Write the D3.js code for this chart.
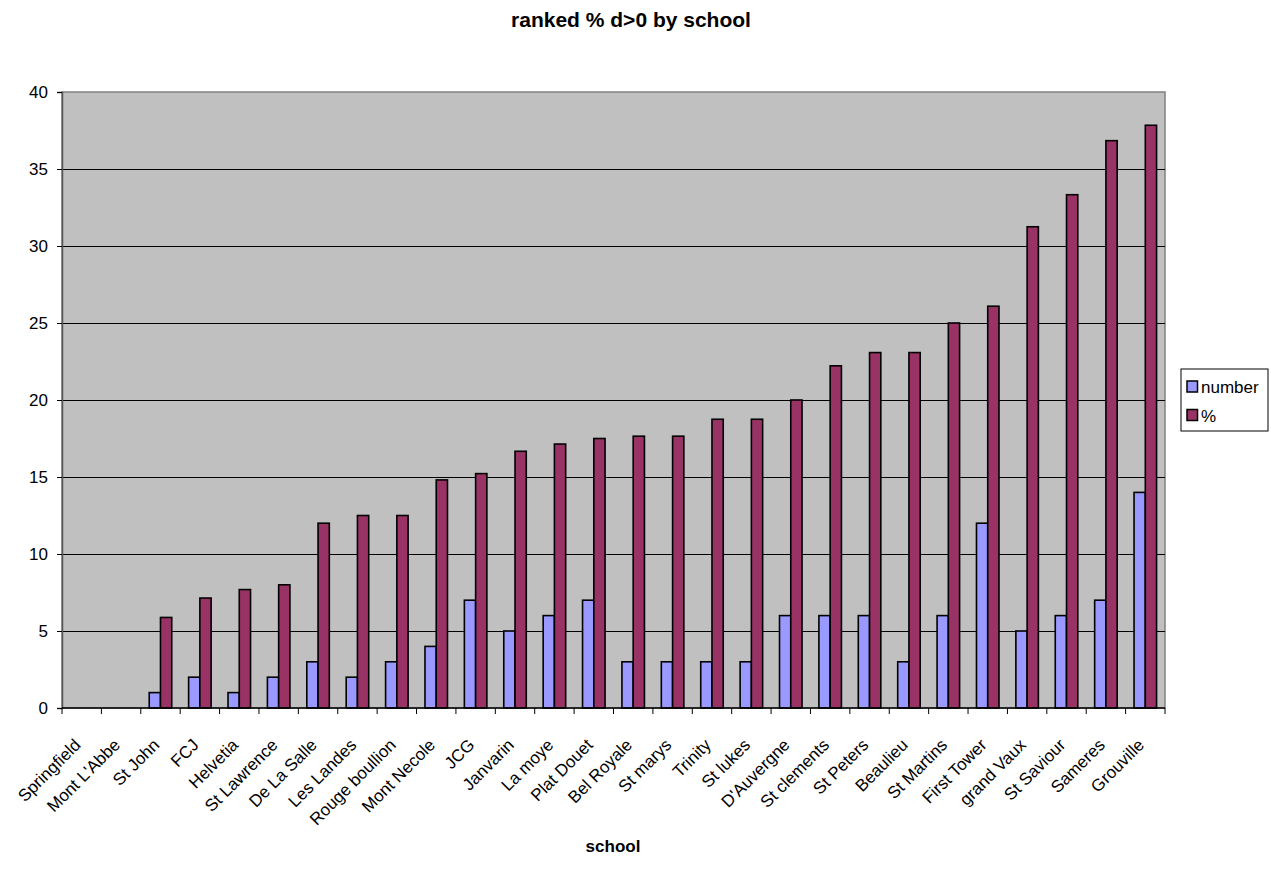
<!DOCTYPE html>
<html>
<head>
<meta charset="utf-8">
<script src="https://cdn.jsdelivr.net/npm/d3@7/dist/d3.min.js"></script>
<style>
  html, body { margin: 0; padding: 0; background: #fff; }
  svg { display: block; font-family: "Liberation Sans", Arial, sans-serif; }
</style>
</head>
<body>
<svg id="chart" width="1271" height="873"></svg>
<script>
// Schools ranked by % with d>0
const schools = ["Springfield", "Mont L'Abbe", "St John", "FCJ", "Helvetia", "St Lawrence",
  "De La Salle", "Les Landes", "Rouge boullion", "Mont Necole", "JCG", "Janvarin", "La moye",
  "Plat Douet", "Bel Royale", "St marys", "Trinity", "St lukes", "D'Auvergne", "St clements",
  "St Peters", "Beaulieu", "St Martins", "First Tower", "grand Vaux", "St Saviour", "Sameres",
  "Grouville"];
const numberValues = [0, 0, 1, 2, 1, 2, 3, 2, 3, 4, 7, 5, 6, 7, 3, 3, 3, 3, 6, 6, 6, 3, 6, 12, 5, 6, 7, 14];
const percentValues = [0, 0, 5.88, 7.14, 7.69, 8.0, 12.0, 12.5, 12.5, 14.81, 15.22, 16.67, 17.14,
  17.5, 17.65, 17.65, 18.75, 18.75, 20.0, 22.22, 23.08, 23.08, 25.0, 26.09, 31.25, 33.33, 36.84, 37.84];
const seriesNames = ["number", "%"];
const seriesColors = ["#9999FF", "#993366"];
const yTicks = [0, 5, 10, 15, 20, 25, 30, 35, 40];

const svg = d3.select("#chart");
const plot = { left: 62, right: 1165, top: 92, bottom: 708 };

const x = d3.scaleBand().domain(schools).range([plot.left, plot.right]).paddingInner(0).paddingOuter(0);
// Two bars per school with a 150% gap around them
const xInner = d3.scaleBand().domain(seriesNames).range([0, x.bandwidth()]).paddingOuter(0.75).paddingInner(0);
const y = d3.scaleLinear().domain([0, 40]).range([plot.bottom, plot.top]);

// Plot area background
svg.append("rect")
  .attr("x", plot.left).attr("y", plot.top)
  .attr("width", plot.right - plot.left).attr("height", plot.bottom - plot.top)
  .attr("fill", "#C0C0C0").attr("stroke", "#808080").attr("stroke-width", 1.5);

// Gridlines
svg.append("g").selectAll("line").data(yTicks.filter(d => d > 0 && d < 40)).join("line")
  .attr("x1", plot.left).attr("x2", plot.right)
  .attr("y1", d => Math.round(y(d)) + 0.5).attr("y2", d => Math.round(y(d)) + 0.5)
  .attr("stroke", "#000").attr("stroke-width", 1);

// Bars
const rows = schools.map((s, i) => ({ school: s, values: [numberValues[i], percentValues[i]] }));
const groups = svg.append("g").selectAll("g").data(rows).join("g")
  .attr("transform", d => `translate(${x(d.school)},0)`);
groups.selectAll("rect")
  .data(d => d.values.map((v, k) => ({ key: seriesNames[k], value: v, color: seriesColors[k] })).filter(d => d.value > 0))
  .join("rect")
  .attr("x", d => xInner(d.key))
  .attr("width", xInner.bandwidth())
  .attr("y", d => y(d.value))
  .attr("height", d => y(0) - y(d.value))
  .attr("fill", d => d.color)
  .attr("stroke", "#000").attr("stroke-width", 1.6);

// Y axis
const yAxis = d3.axisLeft(y).tickValues(yTicks).tickSize(5).tickPadding(9);
const gy = svg.append("g").attr("transform", `translate(${plot.left},0)`).call(yAxis);
gy.select(".domain").attr("stroke", "#555").attr("stroke-width", 1.5);
gy.selectAll(".tick line").attr("stroke", "#000");
gy.selectAll("text").attr("font-size", 17).attr("fill", "#000")
  .attr("font-family", "'Liberation Sans', Arial, sans-serif");

// X axis: ticks at school boundaries
const boundaries = schools.map(s => x(s)).concat([plot.right]);
const gx = svg.append("g");
gx.append("line").attr("x1", plot.left).attr("x2", plot.right)
  .attr("y1", plot.bottom).attr("y2", plot.bottom).attr("stroke", "#000").attr("stroke-width", 1.5);
gx.selectAll("line.tk").data(boundaries).join("line").attr("class", "tk")
  .attr("x1", d => d).attr("x2", d => d)
  .attr("y1", plot.bottom).attr("y2", plot.bottom + 6).attr("stroke", "#000");
gx.selectAll("text").data(schools).join("text")
  .attr("transform", d => `translate(${x(d) + x.bandwidth() / 2},${plot.bottom + 38}) rotate(-45)`)
  .attr("text-anchor", "end")
  .attr("font-size", 17)
  .attr("fill", "#000")
  .text(d => d);

// Titles
svg.append("text").attr("x", 631).attr("y", 27).attr("text-anchor", "middle")
  .attr("font-size", 21).attr("font-weight", "bold").text("ranked % d>0 by school");
svg.append("text").attr("x", 613).attr("y", 852).attr("text-anchor", "middle")
  .attr("font-size", 17).attr("font-weight", "bold").text("school");

// Legend
const legend = svg.append("g").attr("transform", "translate(1181,369)");
legend.append("rect").attr("width", 87).attr("height", 62)
  .attr("fill", "#fff").attr("stroke", "#000").attr("stroke-width", 1);
seriesNames.forEach((name, i) => {
  const yy = 12 + i * 28.5;
  legend.append("rect").attr("x", 6).attr("y", yy).attr("width", 10.5).attr("height", 11)
    .attr("fill", seriesColors[i]).attr("stroke", "#000").attr("stroke-width", 1.5);
  legend.append("text").attr("x", 20).attr("y", yy + 12).attr("font-size", 17).text(name);
});
</script>
</body>
</html>
